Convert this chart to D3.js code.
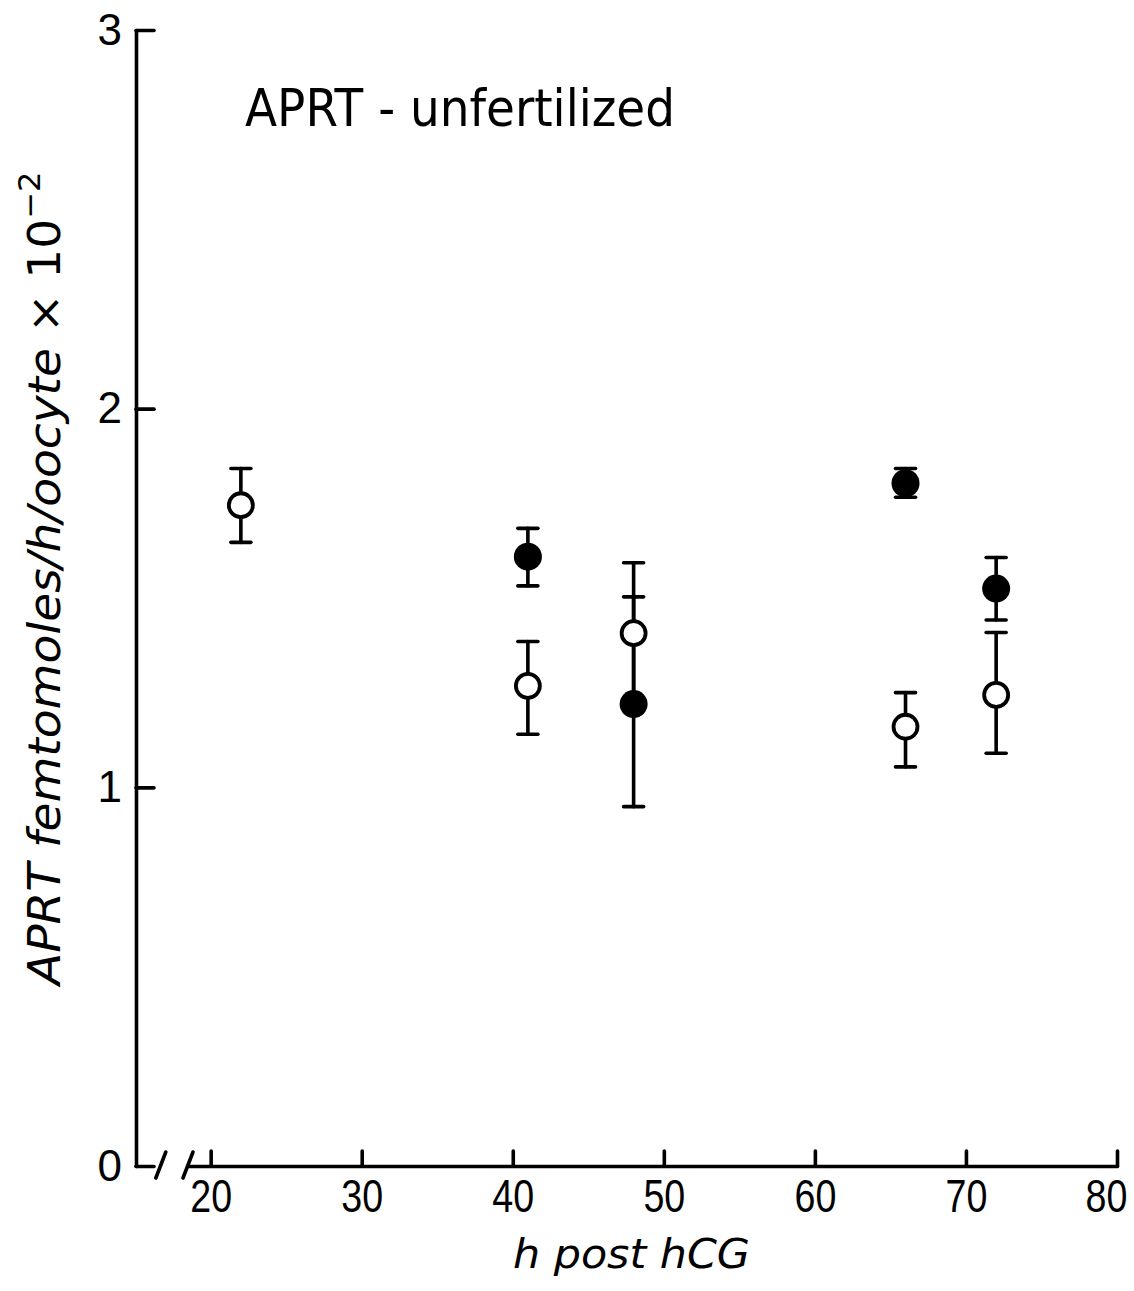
<!DOCTYPE html>
<html>
<head>
<meta charset="utf-8">
<script src="https://cdn.jsdelivr.net/npm/d3@7"></script>
<style>
  html, body { margin: 0; padding: 0; background: #fff; }
  svg { display: block; }
  text { fill: #000; }
</style>
</head>
<body>
<svg id="chart" width="1134" height="1291"></svg>
<script>
// ---- data ----
const xTicks = [20, 30, 40, 50, 60, 70, 80];
const yTicks = [0, 1, 2, 3];

const openHours = [22, 41, 48, 66, 72];
const openMean  = [1.745, 1.268, 1.407, 1.160, 1.244];
const openUpper = [1.842, 1.385, 1.593, 1.250, 1.409];
const openLower = [1.647, 1.140, 1.220, 1.054, 1.090];

const filledHours = [41, 48, 66, 72];
const filledMean  = [1.609, 1.220, 1.803, 1.525];
const filledUpper = [1.684, 1.503, 1.842, 1.607];
const filledLower = [1.532, 0.949, 1.766, 1.442];

const titleText = "APRT - unfertilized";
const xLabel = "h post hCG";

// ---- layout ----
const svg = d3.select("#chart");
const axisX0 = 136;      // y-axis position
const axisY0 = 1166;     // x-axis position

const x = d3.scaleLinear().domain([18.5, 80]).range([188, 1117]);
const y = d3.scaleLinear().domain([0, 3]).range([axisY0, 30]);

const ink = "#000";
const sw = 3.6;
const tickFont = "Liberation Sans, Arial, sans-serif";

// x axis
const gx = svg.append("g").attr("transform", `translate(0,${axisY0})`)
  .call(d3.axisBottom(x).tickValues(xTicks).tickSizeInner(-15).tickSizeOuter(0)
        .tickPadding(13).tickFormat(d3.format("d")));
gx.selectAll("path, line").attr("stroke", ink).attr("stroke-width", sw).attr("stroke-linecap", "round");
gx.selectAll("text").attr("font-family", tickFont).attr("font-size", 47)
  .attr("transform", d => d === 80 ? "translate(-11,0) scale(0.8,1)" : "scale(0.8,1)");

// y axis
const gy = svg.append("g").attr("transform", `translate(${axisX0},0)`)
  .call(d3.axisLeft(y).tickValues(yTicks).tickSizeInner(-18).tickSizeOuter(0)
        .tickPadding(14).tickFormat(d3.format("d")));
gy.selectAll("path, line").attr("stroke", ink).attr("stroke-width", sw).attr("stroke-linecap", "round");
gy.selectAll("text").attr("font-family", tickFont).attr("font-size", 44);

// axis break marks
[16.7, 18.5].forEach(v => {
  const cx = x(v);
  svg.append("line")
    .attr("x1", cx - 5).attr("y1", axisY0 + 12)
    .attr("x2", cx + 5).attr("y2", axisY0 - 14)
    .attr("stroke", ink).attr("stroke-width", sw).attr("stroke-linecap", "round");
});

// ---- error bars ----
const capW = 20;
function errorBars(hours, upper, lower) {
  const g = svg.append("g").attr("stroke", ink).attr("stroke-width", sw).attr("stroke-linecap", "round");
  hours.forEach((h, i) => {
    const cx = x(h);
    g.append("line").attr("x1", cx).attr("x2", cx).attr("y1", y(upper[i])).attr("y2", y(lower[i]));
    g.append("line").attr("x1", cx - capW / 2).attr("x2", cx + capW / 2).attr("y1", y(upper[i])).attr("y2", y(upper[i]));
    g.append("line").attr("x1", cx - capW / 2).attr("x2", cx + capW / 2).attr("y1", y(lower[i])).attr("y2", y(lower[i]));
  });
}
errorBars(openHours, openUpper, openLower);
errorBars(filledHours, filledUpper, filledLower);

// ---- markers ----
svg.append("g").selectAll("circle").data(filledHours).join("circle")
  .attr("cx", d => x(d)).attr("cy", (d, i) => y(filledMean[i]))
  .attr("r", 14).attr("fill", ink);

svg.append("g").selectAll("circle").data(openHours).join("circle")
  .attr("cx", d => x(d)).attr("cy", (d, i) => y(openMean[i]))
  .attr("r", 12).attr("fill", "#fff").attr("stroke", ink).attr("stroke-width", 3.8);

// ---- title ----
svg.append("text")
  .attr("x", 245).attr("y", 126)
  .attr("font-family", "DejaVu Sans, sans-serif").attr("font-size", 52)
  .attr("textLength", 430).attr("lengthAdjust", "spacingAndGlyphs")
  .text(titleText);

// ---- x label ----
svg.append("text")
  .attr("x", 513).attr("y", 1268)
  .attr("font-family", "DejaVu Sans, sans-serif").attr("font-style", "italic").attr("font-size", 40)
  .attr("textLength", 237).attr("lengthAdjust", "spacingAndGlyphs")
  .text(xLabel);

// ---- y label ----
const yl = svg.append("g").attr("transform", "translate(60,985) rotate(-90)");
const ylt = yl.append("text")
  .attr("font-family", "DejaVu Sans, sans-serif").attr("font-size", 44);
ylt.append("tspan").attr("font-style", "italic").text("APRT  femtomoles/h/oocyte");
ylt.append("tspan").text("  \u00d7 10");
ylt.append("tspan").attr("font-size", 30).attr("dy", -20).text("\u22122");
const w = ylt.node().getBBox().width;
ylt.attr("transform", `scale(${817 / w},1)`);
</script>
</body>
</html>
